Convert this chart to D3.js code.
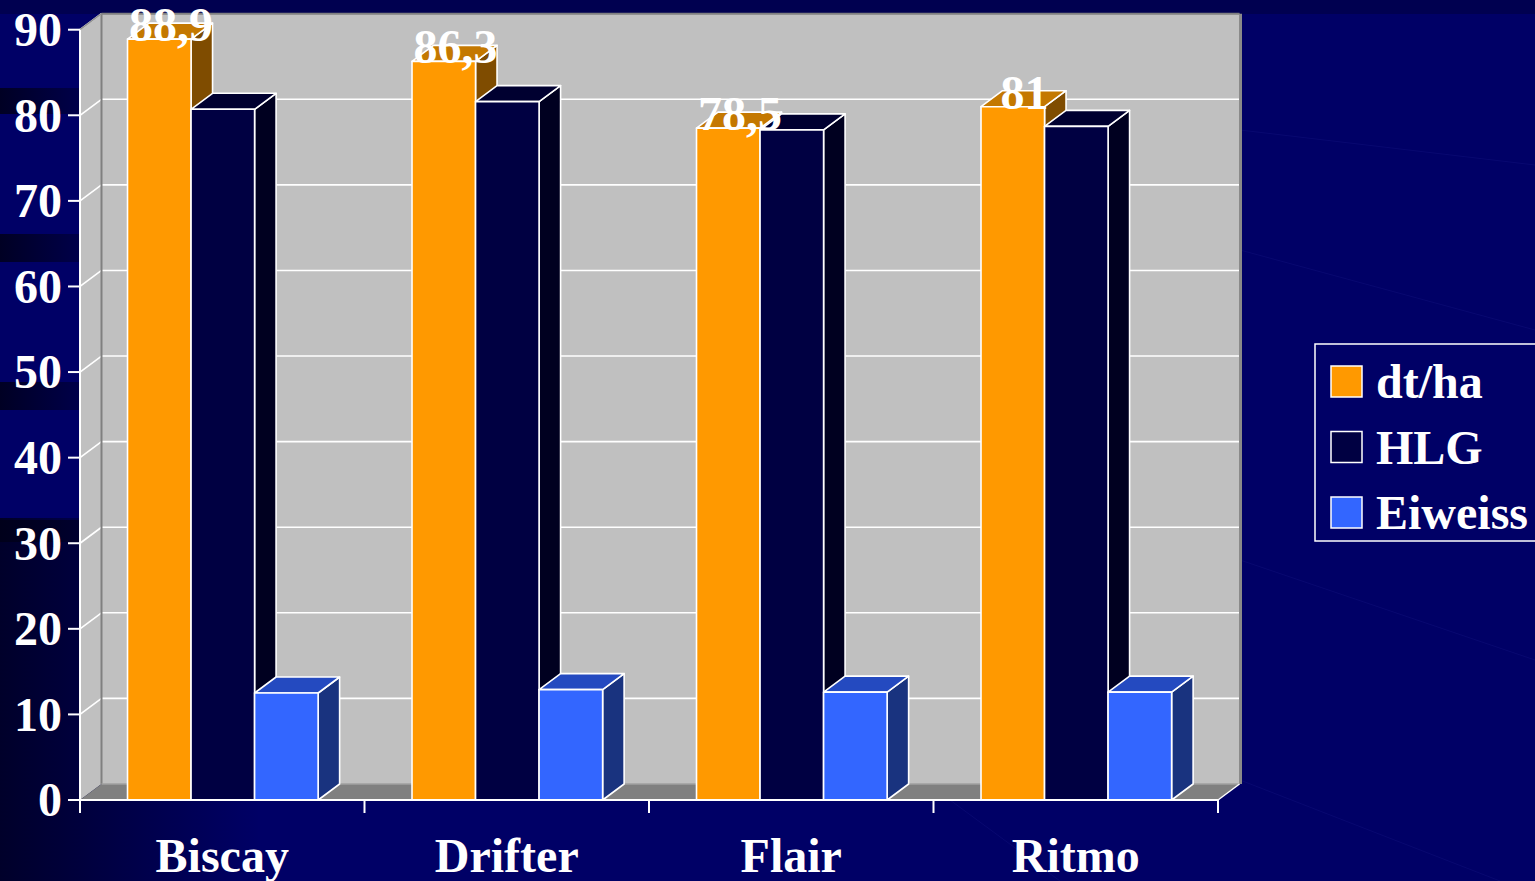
<!DOCTYPE html>
<html>
<head>
<meta charset="utf-8">
<script src="https://cdn.jsdelivr.net/npm/d3@7"></script>
<style>
  html, body { margin: 0; padding: 0; background: #000066; overflow: hidden; }
  svg { display: block; }
  text { font-family: "Liberation Serif", "Times New Roman", serif; font-weight: bold; fill: #ffffff; }
</style>
</head>
<body>
<svg id="chart" width="1535" height="881"></svg>
<script>
// ---- data ----
const categories = ["Biscay", "Drifter", "Flair", "Ritmo"];
const seriesNames = ["dt/ha", "HLG", "Eiweiss"];
const dtha    = [88.9, 86.3, 78.5, 81];
const hlg     = [80.7, 81.6, 78.3, 78.7];
const eiweiss = [12.5, 12.9, 12.6, 12.6];
const dataLabels = ["88,9", "86,3", "78,5", "81"];
const yTicks = [0, 10, 20, 30, 40, 50, 60, 70, 80, 90];

const seriesValues = [dtha, hlg, eiweiss];
const colors = [
  { front: "#FF9900", top: "#C47800", side: "#7F4C00" },
  { front: "#000042", top: "#000030", side: "#000020" },
  { front: "#3366FF", top: "#244AC0", side: "#19337F" }
];

const W = 1535, H = 881;
const svg = d3.select("#chart");

// ---- background ----
const defs = svg.append("defs");
const lg = defs.append("linearGradient").attr("id", "bgL").attr("x1", 0).attr("y1", 0).attr("x2", 1).attr("y2", 0);
lg.append("stop").attr("offset", "0%").attr("stop-color", "#000018").attr("stop-opacity", 0.85);
lg.append("stop").attr("offset", "100%").attr("stop-color", "#000018").attr("stop-opacity", 0);

svg.append("rect").attr("width", W).attr("height", H).attr("fill", "#000066");
svg.append("rect").attr("width", W).attr("height", 14).attr("fill", "#000050");
svg.append("rect").attr("x", 0).attr("y", 520).attr("width", 260).attr("height", 361).attr("fill", "url(#bgL)").attr("opacity", 0.9);
[[88, 26], [234, 28], [382, 28], [518, 24]].forEach(([yy, h]) => {
  svg.append("rect").attr("x", 0).attr("y", yy).attr("width", 140).attr("height", h)
    .attr("fill", "url(#bgL)").attr("opacity", 1);
});
const diag = [
  [[1240, 130], [1535, 165]],
  [[1240, 250], [1535, 330]],
  [[1240, 560], [1535, 660]],
  [[1240, 780], [1500, 881]],
  [[950, 800], [1060, 881]]
];
diag.forEach(p => {
  svg.append("line").attr("x1", p[0][0]).attr("y1", p[0][1]).attr("x2", p[1][0]).attr("y2", p[1][1])
    .attr("stroke", "#1a1a88").attr("stroke-width", 1).attr("opacity", 0.3);
});

// ---- scales ----
const x0 = 80, x1 = 1218, yBase = 800, yTop = 29.7;
const DX = 21.5, DY = -16;
const y = d3.scaleLinear().domain([0, 90]).range([yBase, yTop]);
const xc = d3.scaleBand().domain(categories).range([x0, x1]).paddingInner(0).paddingOuter(0);
const bw = xc.bandwidth();
const xs = d3.scaleBand().domain(seriesNames).range([bw * 0.167, bw * 0.837]).padding(0);

const g = svg.append("g");
const pts = a => a.map(p => p.join(",")).join(" ");

// ---- walls ----
g.append("polygon").attr("points", pts([[x0 + DX, y(90) + DY], [x1 + DX, y(90) + DY], [x1 + DX, yBase + DY], [x0 + DX, yBase + DY]]))
  .attr("fill", "#C0C0C0");
g.append("polygon").attr("points", pts([[x0, y(90)], [x0 + DX, y(90) + DY], [x0 + DX, yBase + DY], [x0, yBase]]))
  .attr("fill", "#C0C0C0");
g.append("polygon").attr("points", pts([[x0, yBase], [x0 + DX, yBase + DY], [x1 + DX, yBase + DY], [x1, yBase]]))
  .attr("fill", "#808080");

yTicks.filter(t => t > 0 && t < 90).forEach(t => {
  g.append("line").attr("x1", x0 + DX).attr("x2", x1 + DX).attr("y1", y(t) + DY).attr("y2", y(t) + DY)
    .attr("stroke", "#ffffff").attr("stroke-width", 1.6);
});
yTicks.filter(t => t > 0).forEach(t => {
  g.append("line").attr("x1", x0).attr("y1", y(t)).attr("x2", x0 + DX).attr("y2", y(t) + DY)
    .attr("stroke", "#ffffff").attr("stroke-width", 1.6);
});
g.append("line").attr("x1", x0 + DX).attr("x2", x0 + DX).attr("y1", y(90) + DY).attr("y2", yBase + DY)
  .attr("stroke", "#808080").attr("stroke-width", 2);
g.append("line").attr("x1", x0 + DX).attr("x2", x1 + DX).attr("y1", y(90) + DY).attr("y2", y(90) + DY)
  .attr("stroke", "#808080").attr("stroke-width", 2);
g.append("line").attr("x1", x0).attr("y1", y(90)).attr("x2", x0 + DX).attr("y2", y(90) + DY)
  .attr("stroke", "#909090").attr("stroke-width", 1.5);
g.append("line").attr("x1", x1 + DX + 1).attr("x2", x1 + DX + 1).attr("y1", y(90) + DY).attr("y2", yBase + DY)
  .attr("stroke", "#8a8a8a").attr("stroke-width", 3);
g.append("line").attr("x1", x0 + DX).attr("x2", x1 + DX).attr("y1", yBase + DY).attr("y2", yBase + DY)
  .attr("stroke", "#a0a0a0").attr("stroke-width", 1.5);
g.append("line").attr("x1", x1).attr("y1", yBase).attr("x2", x1 + DX).attr("y2", yBase + DY)
  .attr("stroke", "#ffffff").attr("stroke-width", 1.5);

// ---- bars ----
const barsG = g.append("g");
categories.forEach((c, ci) => {
  seriesNames.forEach((s, si) => {
    const v = seriesValues[si][ci];
    const L = xc(c) + xs(s), R = L + xs.bandwidth();
    const T = y(v), B = yBase;
    const col = colors[si];
    const bg = barsG.append("g").attr("stroke", "#ffffff").attr("stroke-width", 1.6).attr("stroke-linejoin", "round");
    bg.append("polygon").attr("points", pts([[R, B], [R + DX, B + DY], [R + DX, T + DY], [R, T]])).attr("fill", col.side);
    bg.append("polygon").attr("points", pts([[L, T], [L + DX, T + DY], [R + DX, T + DY], [R, T]])).attr("fill", col.top);
    bg.append("rect").attr("x", L).attr("y", T).attr("width", R - L).attr("height", B - T).attr("fill", col.front);
  });
});

// ---- data labels (dt/ha) ----
categories.forEach((c, ci) => {
  const L = xc(c) + xs(seriesNames[0]);
  g.append("text")
    .attr("x", L + xs.bandwidth() / 2 + DX / 2 + 1)
    .attr("y", y(dtha[ci]) + 2)
    .attr("text-anchor", "middle")
    .attr("font-size", 48)
    .text(dataLabels[ci]);
});

// ---- axes ----
const axG = g.append("g");
axG.append("line").attr("x1", x0).attr("x2", x0).attr("y1", y(90)).attr("y2", yBase + 13)
  .attr("stroke", "#ffffff").attr("stroke-width", 2);
axG.append("line").attr("x1", x0).attr("x2", x1).attr("y1", yBase).attr("y2", yBase)
  .attr("stroke", "#ffffff").attr("stroke-width", 2);
yTicks.forEach(t => {
  axG.append("line").attr("x1", x0 - 12).attr("x2", x0).attr("y1", y(t)).attr("y2", y(t))
    .attr("stroke", "#ffffff").attr("stroke-width", 2);
  axG.append("text").attr("x", 62).attr("y", y(t)).attr("dy", "0.34em")
    .attr("text-anchor", "end").attr("font-size", 48).text(t);
});
categories.concat([null]).forEach(c => {
  const xx = c === null ? x1 : xc(c);
  axG.append("line").attr("x1", xx).attr("x2", xx).attr("y1", yBase).attr("y2", yBase + 13)
    .attr("stroke", "#ffffff").attr("stroke-width", 2);
});
categories.forEach(c => {
  axG.append("text").attr("x", xc(c) + bw / 2).attr("y", 872)
    .attr("text-anchor", "middle").attr("font-size", 48).text(c);
});

// ---- legend ----
const lgG = svg.append("g");
lgG.append("rect").attr("x", 1315).attr("y", 344).attr("width", 240).attr("height", 197)
  .attr("fill", "#000066").attr("stroke", "#ffffff").attr("stroke-width", 1.5);
seriesNames.forEach((s, i) => {
  const yy = 366 + i * 65.5;
  lgG.append("rect").attr("x", 1331).attr("y", yy).attr("width", 31).attr("height", 31)
    .attr("fill", colors[i].front).attr("stroke", "#ffffff").attr("stroke-width", 1.5);
  lgG.append("text").attr("x", 1376).attr("y", yy + 32).attr("font-size", 48).text(s);
});
</script>
</body>
</html>
